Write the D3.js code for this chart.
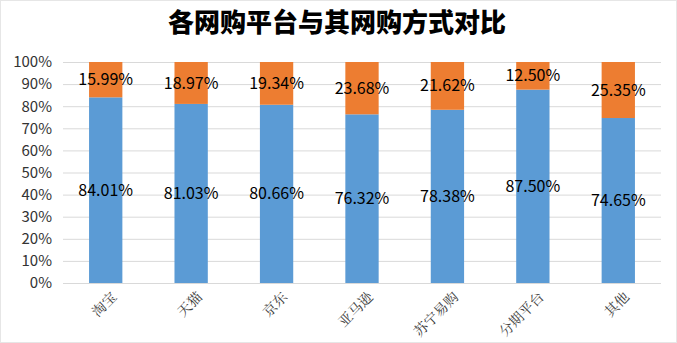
<!DOCTYPE html>
<html lang="zh">
<head>
<meta charset="UTF-8">
<title>各网购平台与其网购方式对比</title>
<script src="https://cdn.jsdelivr.net/npm/d3@7/dist/d3.min.js"></script>
<style>
  body { margin: 0; background: #fff; }
</style>
</head>
<body>
<div id="container"></div>
<script>
  const width = 677;
  const height = 343;
  const margin = { top: 62, left: 63, right: 16, bottom: 60 };

  const categories = ['淘宝', '天猫', '京东', '亚马逊', '苏宁易购', '分期平台', '其他'];
  const seriesA = [84.01, 81.03, 80.66, 76.32, 78.38, 87.50, 74.65];
  const seriesB = [15.99, 18.97, 19.34, 23.68, 21.62, 12.50, 25.35];
  const yTicks = [0, 10, 20, 30, 40, 50, 60, 70, 80, 90, 100];

  const colors = ['#5B9BD5', '#ED7D31'];

  const x = d3.scaleBand().domain(categories)
    .range([margin.left, width - margin.right])
    .paddingInner(0.61).paddingOuter(0.305);
  const y = d3.scaleLinear().domain([0, 100]).range([height - margin.bottom, margin.top]);

  const svg = d3.select('#container').append('svg')
    .attr('width', width)
    .attr('height', height);

  svg.append('rect')
    .attr('x', 0.5).attr('y', 0.5)
    .attr('width', width - 1).attr('height', height - 1)
    .attr('fill', '#fff').attr('stroke', '#e6e6e6');

  // title
  svg.append('text')
    .attr('x', 337).attr('y', 32)
    .attr('text-anchor', 'middle')
    .attr('font-family', '"Noto Sans CJK SC", sans-serif')
    .attr('font-weight', 900)
    .attr('font-size', 26)
    .attr('fill', '#000')
    .text('各网购平台与其网购方式对比');

  // grid
  svg.append('g').selectAll('line').data(yTicks).join('line')
    .attr('x1', margin.left).attr('x2', width - margin.right)
    .attr('y1', d => y(d) + 0.5).attr('y2', d => y(d) + 0.5)
    .attr('stroke', '#d9d9d9');

  // y axis
  const gy = svg.append('g').attr('transform', `translate(${margin.left}, 0)`)
    .call(d3.axisLeft(y).tickValues(yTicks).tickSize(0).tickPadding(11).tickFormat(d => d + '%'));
  gy.select('.domain').remove();
  gy.selectAll('text')
    .attr('font-family', '"Noto Sans CJK SC", sans-serif')
    .attr('font-size', 15)
    .attr('fill', '#333');

  // stacked bars
  const stack = categories.map((c, i) => ({ c, a: seriesA[i], b: seriesB[i] }));
  const bars = svg.append('g');
  bars.selectAll('.a').data(stack).join('rect')
    .attr('x', d => x(d.c)).attr('width', x.bandwidth())
    .attr('y', d => y(d.a)).attr('height', d => y(0) - y(d.a))
    .attr('fill', colors[0]);
  bars.selectAll('.b').data(stack).join('rect')
    .attr('x', d => x(d.c)).attr('width', x.bandwidth())
    .attr('y', d => y(d.a + d.b)).attr('height', d => y(d.a) - y(d.a + d.b))
    .attr('fill', colors[1]);

  // x axis
  svg.append('line')
    .attr('x1', margin.left).attr('x2', width - margin.right)
    .attr('y1', y(0) + 0.5).attr('y2', y(0) + 0.5)
    .attr('stroke', '#d9d9d9');

  svg.append('g').selectAll('text').data(categories).join('text')
    .attr('transform', d => `translate(${x(d) + x.bandwidth() / 2 + 5}, ${y(0) + 8}) rotate(-45)`)
    .attr('text-anchor', 'end')
    .attr('dy', '0.7em')
    .attr('font-family', '"Noto Serif CJK SC", "Noto Sans CJK SC", serif')
    .attr('font-size', 14)
    .attr('fill', '#404040')
    .text(d => d);

  // data labels
  const labelFont = '"Noto Sans CJK SC", sans-serif';
  svg.append('g').selectAll('text').data(stack).join('text')
    .attr('x', d => x(d.c) + x.bandwidth() / 2)
    .attr('y', d => y(d.a / 2))
    .attr('dy', '0.35em')
    .attr('text-anchor', 'middle')
    .attr('font-family', labelFont)
    .attr('font-size', 16)
    .attr('fill', '#000')
    .text(d => d.a.toFixed(2) + '%');
  svg.append('g').selectAll('text').data(stack).join('text')
    .attr('x', d => x(d.c) + x.bandwidth() / 2)
    .attr('y', d => y(d.a + d.b / 2))
    .attr('dy', '0.35em')
    .attr('text-anchor', 'middle')
    .attr('font-family', labelFont)
    .attr('font-size', 16)
    .attr('fill', '#000')
    .text(d => d.b.toFixed(2) + '%');
</script>
</body>
</html>
